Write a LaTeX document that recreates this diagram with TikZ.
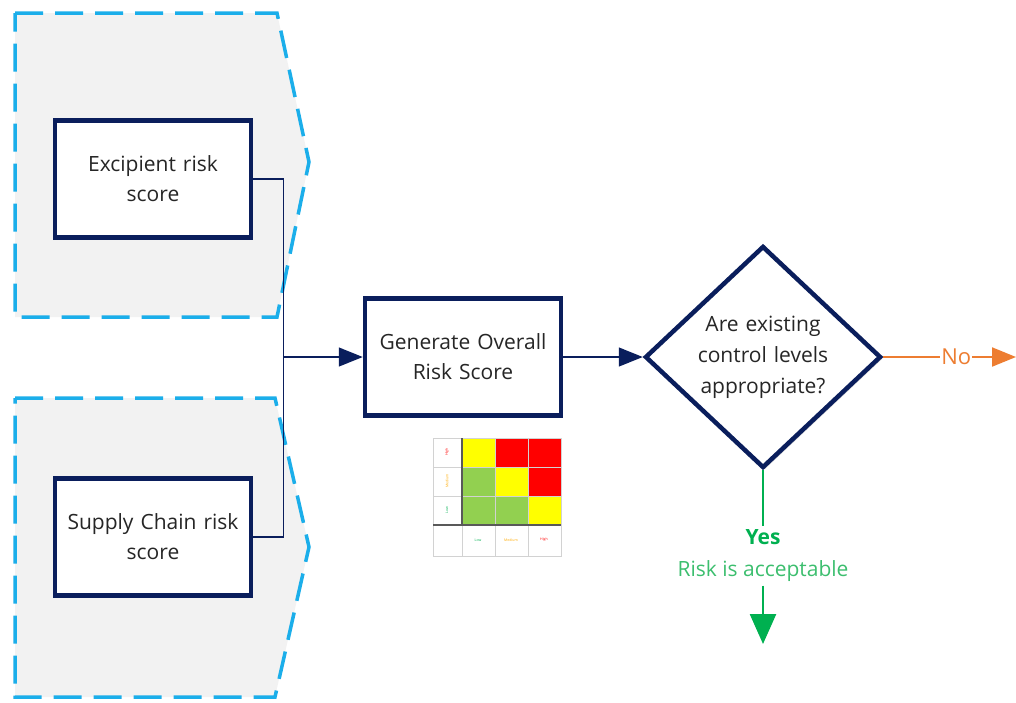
\documentclass[tikz,border=0pt]{standalone}
\usepackage{fontspec}
\setmainfont{Open Sans}
\usetikzlibrary{shapes,arrows.meta,calc,positioning,shadows}
\definecolor{navy}{RGB}{10,30,92}
\definecolor{dashblue}{RGB}{27,174,234}
\definecolor{panelgray}{RGB}{242,242,242}
\definecolor{textgray}{RGB}{38,38,38}
\definecolor{noorange}{RGB}{237,125,49}
\definecolor{yesgreen}{RGB}{0,176,80}
\definecolor{accgreen}{RGB}{60,190,110}
\definecolor{rmgreen}{RGB}{146,208,80}
\definecolor{rmyellow}{RGB}{255,255,0}
\definecolor{rmred}{RGB}{255,0,0}
\definecolor{rmorange}{RGB}{255,170,0}
\tikzstyle{block} = [draw=navy, line width=4.5pt, fill=white, rectangle,
	minimum height=117pt, minimum width=196pt, text width=190pt, inner sep=2pt,
	align=center, text=textgray, font=\fontsize{21}{30}\selectfont,
	drop shadow={shadow xshift=2pt, shadow yshift=-2pt, opacity=0.3}]
\tikzstyle{decision} = [draw=navy, line width=4.5pt, fill=white, diamond,
	minimum width=236pt, minimum height=222pt, inner sep=0pt, text width=134pt,
	align=center, text=textgray, font=\fontsize{21}{31}\selectfont,
	drop shadow={shadow xshift=2pt, shadow yshift=-2pt, opacity=0.3}]
\tikzstyle{panel} = [draw=dashblue, line width=3.5pt, dash pattern=on 28pt off 12pt, fill=panelgray]
\tikzstyle{link} = [draw=navy, line width=1.3pt]
\tikzstyle{cell} = [draw=gray!35, line width=0.5pt]
\tikzstyle{rmlabel} = [inner sep=0pt, font=\fontsize{3.5}{4}\selectfont]

\begin{document}
\begin{tikzpicture}[x=1pt, y=-1pt, node distance=300pt, >={Triangle[length=24pt,width=19pt]}]
	\useasboundingbox (0,0) rectangle (1016,702);
	\draw[panel] (15,13) -- (277,13) -- (309,162) -- (277,317) -- (15,317) -- cycle;
	\draw[panel] (15,398) -- (275,398) -- (309,547) -- (275,697) -- (15,697) -- cycle;

	\node [block] (exc) at (153,179) {Excipient risk\\score};
	\node [block, below of=exc, yshift=-58pt] (sup) {Supply Chain risk\\score};
	\node [block, right of=exc, xshift=10pt, yshift=-178pt] (gen) {Generate Overall\\Risk Score};
	\node [decision, right of=gen] (dec) {Are existing\\control levels\\appropriate?};
	\node [below of=dec, node distance=199pt, align=center, font=\fontsize{21}{32}\selectfont] (yes)
		{\textcolor{yesgreen}{\textbf{Yes}}\\\textcolor{accgreen}{Risk is acceptable}};
	\coordinate [right of=dec, xshift=-47pt] (noend);
	\coordinate [below of=yes, node distance=88pt] (yesend);
	\coordinate (join) at ($(gen.west -| exc.east)+(30pt,0)$);

	\draw[link] (exc.east) -| (join);
	\draw[link] (sup.east) -| (join);
	\draw[link,->] (join) -- (gen.west);
	\draw[link,->] (gen.east) -- (dec.west);
	\draw[draw=noorange, line width=2pt, ->] (dec.east) -- node[pos=0.55, fill=white, inner sep=1pt,
		text=noorange, font=\fontsize{22}{25}\selectfont] {No} (noend);
	\draw[yesgreen, line width=2.5pt] (dec.south) -- (yes.north);
	\draw[yesgreen, line width=2.5pt, -{Triangle[length=30pt,width=26pt]}] (yes.south) -- (yesend);

	% risk matrix
	\foreach \r/\cl in {0/{rmyellow,rmred,rmred},1/{rmgreen,rmyellow,rmred},2/{rmgreen,rmgreen,rmyellow}}
		\foreach \c [count=\k from 0] in \cl
			\fill[\c] ({462+33*\k},{438+29*\r}) rectangle ++(33,29);
	\draw[cell] (433,438) rectangle (561,556);
	\foreach \x in {462,495,528} \draw[cell] (\x,438) -- (\x,556);
	\foreach \y in {467,496,525} \draw[cell] (433,\y) -- (561,\y);
	\draw[line width=1.5pt, gray!70!black] (462,438) -- (462,525) (433,525) -- (561,525);
	\foreach \t/\c [count=\k from 0] in {High/rmred,Medium/rmorange,Low/yesgreen}
		\node[rmlabel, text=\c, rotate=90] (side\k) at (447,{452+29*\k}) {\t};
	\foreach \t/\c [count=\k from 0] in {Low/yesgreen,Medium/rmorange,High/rmred}
		\node[rmlabel, text=\c] (base\k) at ({478+33*\k},540) {\t};

\end{tikzpicture}
\end{document}
